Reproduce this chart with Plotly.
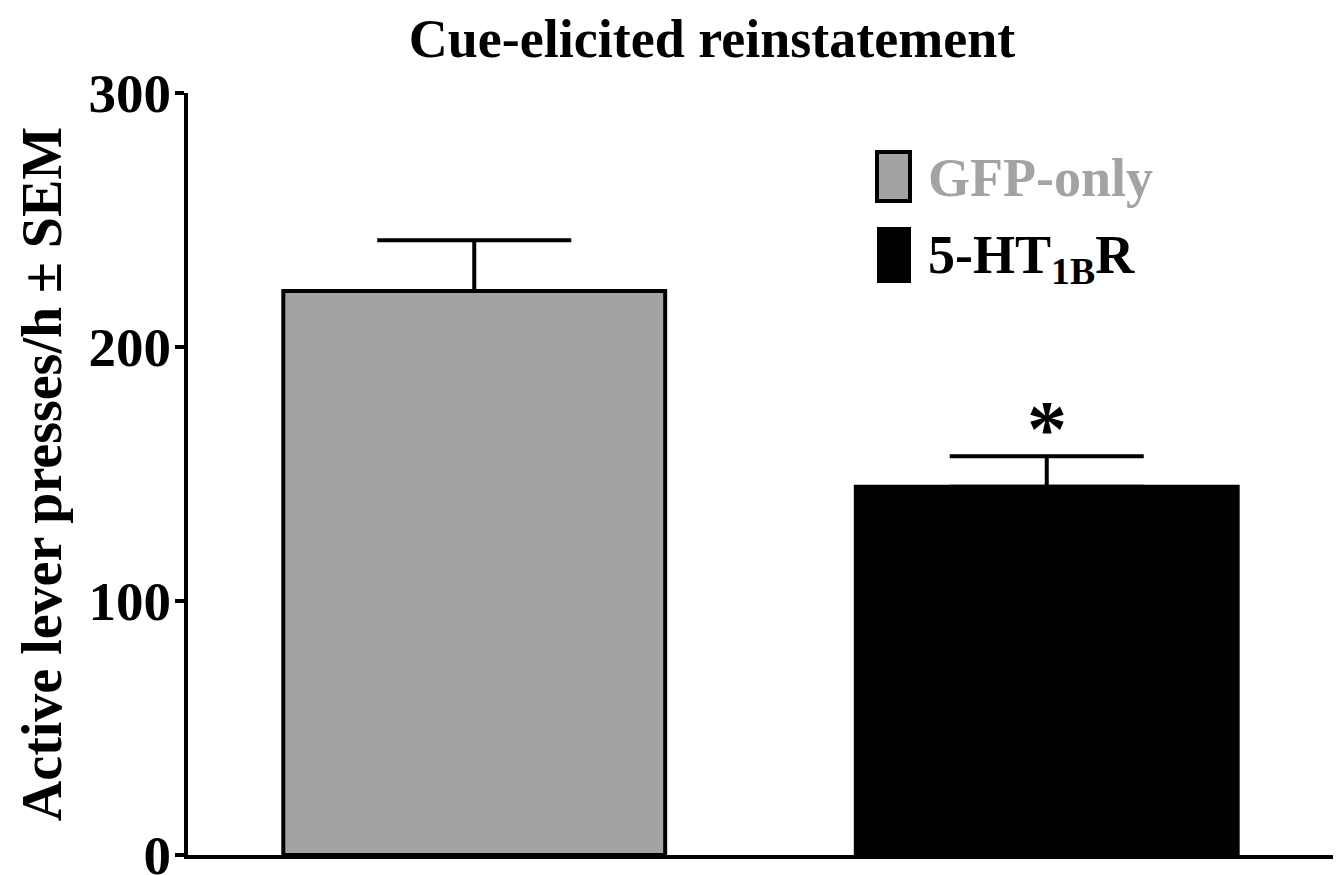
import plotly.graph_objects as go

# Group data
groups = ["GFP-only", "5-HT1BR"]
means = [222, 145]
sems = [20, 12]
bar_colors = ["#a3a3a3", "#000000"]
y_ticks = [0, 100, 200, 300]

FONT = "Liberation Serif, Times New Roman, serif"

fig = go.Figure()
fig.add_trace(go.Bar(
    x=[0, 1],
    y=means,
    width=0.667,
    marker=dict(color=bar_colors, line=dict(color="black", width=4)),
    error_y=dict(type="data", array=sems, arrayminus=[0, 0], symmetric=False,
                 color="black", thickness=4, width=97),
    showlegend=False,
))

# significance marker above the second group
fig.add_annotation(x=1, y=means[1] + sems[1], yshift=27, text="<b>*</b>",
                   showarrow=False, font=dict(family=FONT, size=80, color="black"))

# legend drawn as boxes + labels
fig.add_shape(type="rect", xref="paper", yref="paper",
              x0=(877 - 188) / 1145, x1=(910 - 188) / 1145,
              y0=(855 - 201) / 762, y1=(855 - 152) / 762,
              fillcolor="#a3a3a3", line=dict(color="black", width=4))
fig.add_shape(type="rect", xref="paper", yref="paper",
              x0=(877 - 188) / 1145, x1=(911 - 188) / 1145,
              y0=(855 - 283) / 762, y1=(855 - 227) / 762,
              fillcolor="black", line=dict(color="black", width=0))
fig.add_annotation(xref="paper", yref="paper", x=(926 - 188) / 1145, y=(855 - 178) / 762,
                   xanchor="left", yanchor="middle", showarrow=False,
                   text="<b>GFP-only</b>", font=dict(family=FONT, size=54, color="#a3a3a3"))
fig.add_annotation(xref="paper", yref="paper", x=(926 - 188) / 1145, y=(855 - 258) / 762,
                   xanchor="left", yanchor="middle", showarrow=False,
                   text="<b>5-HT<sub>1B</sub>R</b>",
                   font=dict(family=FONT, size=54, color="black"))

fig.update_layout(
    width=1342, height=875,
    margin=dict(l=188, r=9, t=93, b=20, autoexpand=False),
    paper_bgcolor="white", plot_bgcolor="white",
    title=dict(text="<b>Cue-elicited reinstatement</b>", x=(712 - 188) / 1145,
               xanchor="center", xref="paper", y=1 - 38 / 875, yanchor="middle",
               font=dict(family=FONT, size=54, color="black")),
    xaxis=dict(range=[-0.5, 1.5], showticklabels=False, ticks="", showgrid=False,
               zeroline=False, showline=True, linecolor="black", linewidth=4,
               automargin=False),
    yaxis=dict(range=[0, 300], tickvals=y_ticks, ticktext=[f"<b>{v}</b>" for v in y_ticks],
               ticks="outside", ticklen=9, tickwidth=4, tickcolor="black",
               ticklabeloverflow="allow", ticklabelstandoff=-7, automargin=False,
               showgrid=False, zeroline=False, showline=True, linecolor="black", linewidth=4,
               tickfont=dict(family=FONT, size=55, color="black"),
               title=dict(text="<b>Active lever presses/h ± SEM</b>", standoff=10,
                          font=dict(family=FONT, size=56, color="black"))),
)

fig.write_html("out.html")
